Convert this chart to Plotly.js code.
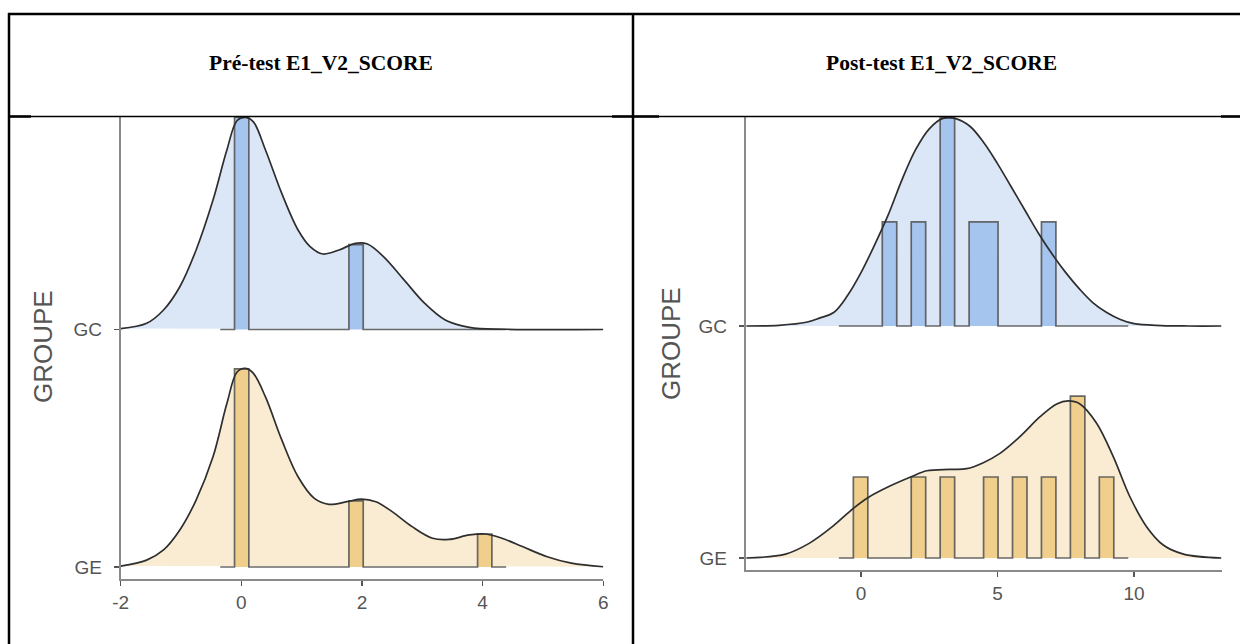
<!DOCTYPE html>
<html>
<head>
<meta charset="utf-8">
<script src="https://cdn.plot.ly/plotly-3.0.1.min.js"></script>
<style>
html,body{margin:0;padding:0;background:#fff;}
#chart{width:1240px;height:644px;}
</style>
</head>
<body>
<div id="chart"></div>
<script>
// ---------------- DATA ----------------
const panelTitles = ['Pré-test E1_V2_SCORE', 'Post-test E1_V2_SCORE'];
const groupLabels = ['GE', 'GC'];
const axisTitle = 'GROUPE';

const preTicks = [-2, 0, 2, 4, 6];
const postTicks = [0, 5, 10];

// Score frequencies (histograms)
const preScores = [0, 2, 4];
const preCountGC = [5, 2, 0];
const preCountGE = [6, 2, 1];
const postScores = [0, 1, 2, 3, 4, 5, 6, 7, 8, 9];
const postCountGC = [0, 1, 1, 2, 1, 1, 0, 1, 0, 0];
const postCountGE = [1, 0, 1, 1, 0, 1, 1, 1, 2, 1];

// Density curves (height relative to the spacing between groups)
const preX_GC = [-2, -1.57, -1.29, -1.02, -0.75, -0.47, -0.24, -0.07, 0.07, 0.2, 0.4, 0.67, 0.94, 1.14, 1.35, 1.62, 1.89, 2.09, 2.36, 2.7, 3.04, 3.38, 3.78, 4.39, 6];
const preD_GC = [0.004, 0.026, 0.082, 0.18, 0.335, 0.545, 0.756, 0.88, 0.893, 0.874, 0.756, 0.573, 0.419, 0.349, 0.318, 0.335, 0.363, 0.36, 0.306, 0.208, 0.11, 0.04, 0.009, 0.001, 0];

const preX_GE = [-2, -1.57, -1.29, -1.02, -0.75, -0.47, -0.24, -0.07, 0.07, 0.2, 0.4, 0.67, 0.94, 1.21, 1.45, 1.75, 1.99, 2.23, 2.5, 2.83, 3.17, 3.44, 3.78, 4.05, 4.32, 4.66, 5.07, 5.47, 6];
const preD_GE = [0.004, 0.029, 0.072, 0.156, 0.282, 0.464, 0.688, 0.821, 0.836, 0.815, 0.716, 0.535, 0.38, 0.289, 0.264, 0.275, 0.286, 0.275, 0.233, 0.17, 0.121, 0.116, 0.135, 0.139, 0.121, 0.086, 0.043, 0.016, 0.001];

const postX_GC = [-4.2, -3, -2, -1.5, -1, -0.5, 0, 0.5, 1, 1.5, 2, 2.5, 3, 3.5, 4, 4.5, 5, 5.5, 6, 6.5, 7, 7.5, 8, 8.5, 9, 9.5, 10, 11, 12, 13.2];
const postD_GC = [0, 0.003, 0.016, 0.035, 0.058, 0.13, 0.23, 0.35, 0.48, 0.63, 0.76, 0.85, 0.895, 0.893, 0.86, 0.79, 0.70, 0.60, 0.50, 0.40, 0.31, 0.23, 0.16, 0.1, 0.058, 0.028, 0.01, 0.002, 0, 0];

const postX_GE = [-4.2, -2.76, -1.9, -1.05, -0.28, 0.28, 1.06, 1.84, 2.41, 3.26, 3.87, 4.48, 5.09, 5.82, 6.56, 7.17, 7.59, 8.02, 8.63, 9.24, 9.85, 10.46, 11.07, 11.81, 13.2];
const postD_GE = [0, 0.017, 0.063, 0.135, 0.214, 0.262, 0.31, 0.35, 0.376, 0.382, 0.385, 0.411, 0.451, 0.523, 0.609, 0.664, 0.677, 0.664, 0.581, 0.437, 0.264, 0.135, 0.056, 0.017, 0];

// ---------------- STYLE / GEOMETRY ----------------
const W = 1240, H = 644;
const px = v => v / W;
const py = v => 1 - v / H;

const colors = {
  GC: {fill: '#dbe6f7', bar: '#a5c4ee'},
  GE: {fill: '#f9ecd3', bar: '#f0cf8c'}
};
const densLine = {color: '#2e2e2e', width: 1.7};
const histLine = {color: 'rgba(80,80,80,0.85)', width: 1.7};

const panels = [
  {xa: 'x', ya: 'y', bins: {start: -0.35, w: 0.237, n: 20}, scale: 0.2965,
   scores: preScores, cGC: preCountGC, cGE: preCountGE,
   dGC: [preX_GC, preD_GC], dGE: [preX_GE, preD_GE]},
  {xa: 'x2', ya: 'y2', bins: {start: -0.81, w: 0.53, n: 20}, scale: 1.665,
   scores: postScores, cGC: postCountGC, cGE: postCountGE,
   dGC: [postX_GC, postD_GC], dGE: [postX_GE, postD_GE]}
];

function histPath(bins, scores, counts, scale, base) {
  const h = new Array(bins.n).fill(0);
  const total = counts.reduce((a, b) => a + b, 0);
  scores.forEach((s, i) => {
    const k = Math.floor((s - bins.start) / bins.w);
    h[k] += counts[i];
  });
  const xs = [bins.start], ys = [base];
  for (let k = 0; k < bins.n; k++) {
    const hh = base + h[k] / (total * bins.w) * scale;
    xs.push(bins.start + k * bins.w, bins.start + (k + 1) * bins.w);
    ys.push(hh, hh);
  }
  xs.push(bins.start + bins.n * bins.w);
  ys.push(base);
  return {xs, ys};
}

const traces = [];
panels.forEach(p => {
  [['GC', 1, p.cGC, p.dGC], ['GE', 0, p.cGE, p.dGE]].forEach(([g, base, counts, dens]) => {
    const dx = dens[0], dy = dens[1].map(v => v + base);
    traces.push({
      type: 'scatter', mode: 'lines', xaxis: p.xa, yaxis: p.ya,
      x: dx, y: dy, fill: 'toself', fillcolor: colors[g].fill,
      line: {width: 0, shape: 'spline', smoothing: 1}, hoverinfo: 'skip'
    });
    const hp = histPath(p.bins, p.scores, counts, p.scale, base);
    traces.push({
      type: 'scatter', mode: 'lines', xaxis: p.xa, yaxis: p.ya,
      x: hp.xs, y: hp.ys, fill: 'toself', fillcolor: colors[g].bar,
      line: histLine, hoverinfo: 'skip', cliponaxis: false
    });
    traces.push({
      type: 'scatter', mode: 'lines', xaxis: p.xa, yaxis: p.ya,
      x: dx, y: dy, line: {color: densLine.color, width: densLine.width, shape: 'spline', smoothing: 1},
      hoverinfo: 'skip', cliponaxis: false
    });
  });
});

const tickFont = {family: 'Liberation Sans, Arial, sans-serif', size: 19, color: '#555'};
function xAxis(domain, range, ticks, anchor) {
  return {
    domain, range, anchor, tickvals: ticks, ticktext: ticks.map(String),
    showgrid: false, zeroline: false, showline: true, linecolor: '#8a8a8a', linewidth: 2,
    ticks: 'outside', ticklen: 5, tickwidth: 1.5, tickcolor: '#555',
    tickfont: tickFont, ticklabelstandoff: 0, fixedrange: true
  };
}
function yAxis(domain, range, anchor) {
  return {
    domain, range, anchor, tickvals: [0, 1], ticktext: groupLabels,
    showgrid: false, zeroline: false, showline: true, linecolor: '#8a8a8a', linewidth: 2,
    ticks: 'outside', ticklen: 5, tickwidth: 1.5, tickcolor: '#555',
    tickfont: tickFont, ticklabelstandoff: 8, fixedrange: true
  };
}

const L = {x0: 120.7, x1: 603.3, top: 117, bot: 579, unit: 237.5, base: 567};
const R = {x0: 745.7, x1: 1221.7, top: 117, bot: 570, unit: 232, base: 558, zeroPx: 861, pxPerUnit: 27.3};

const layout = {
  width: W, height: H, margin: {l: 0, r: 0, t: 0, b: 0},
  paper_bgcolor: '#fff', plot_bgcolor: '#fff', showlegend: false,
  xaxis: xAxis([px(L.x0), px(L.x1)], [-2, 6], preTicks, 'y'),
  yaxis: yAxis([py(L.bot), py(L.top)], [(L.base - L.bot) / L.unit, (L.base - L.top) / L.unit], 'x'),
  xaxis2: xAxis([px(R.x0), px(R.x1)], [(R.x0 - R.zeroPx) / R.pxPerUnit, (R.x1 - R.zeroPx) / R.pxPerUnit], postTicks, 'y2'),
  yaxis2: yAxis([py(R.bot), py(R.top)], [(R.base - R.bot) / R.unit, (R.base - R.top) / R.unit], 'x2'),
  annotations: [
    {text: panelTitles[0], x: px(321), y: py(63.5), xref: 'paper', yref: 'paper', showarrow: false,
     xanchor: 'center', yanchor: 'middle', font: {family: 'Liberation Serif, serif', size: 21.5, color: '#000', weight: 700}},
    {text: panelTitles[1], x: px(941), y: py(63.5), xref: 'paper', yref: 'paper', showarrow: false,
     xanchor: 'center', yanchor: 'middle', font: {family: 'Liberation Serif, serif', size: 21.5, color: '#000', weight: 700}},
    {text: axisTitle, x: px(43), y: py(347), xref: 'paper', yref: 'paper', showarrow: false, textangle: -90,
     xanchor: 'center', yanchor: 'middle', font: {family: 'Liberation Sans, Arial, sans-serif', size: 26, color: '#555'}},
    {text: axisTitle, x: px(671), y: py(344), xref: 'paper', yref: 'paper', showarrow: false, textangle: -90,
     xanchor: 'center', yanchor: 'middle', font: {family: 'Liberation Sans, Arial, sans-serif', size: 26, color: '#555'}}
  ],
  shapes: [
    {type: 'line', xref: 'paper', yref: 'paper', x0: px(8), x1: px(1240), y0: py(14), y1: py(14), line: {color: '#000', width: 2.5}},
    {type: 'line', xref: 'paper', yref: 'paper', x0: px(9), x1: px(9), y0: py(13), y1: py(644), line: {color: '#000', width: 2.5}},
    {type: 'line', xref: 'paper', yref: 'paper', x0: px(633), x1: px(633), y0: py(13), y1: py(644), line: {color: '#000', width: 2.5}},
    {type: 'line', xref: 'paper', yref: 'paper', x0: px(9), x1: px(1240), y0: py(116.5), y1: py(116.5), line: {color: '#000', width: 1.3}},
    {type: 'line', xref: 'paper', yref: 'paper', x0: px(9), x1: px(31), y0: py(116.5), y1: py(116.5), line: {color: '#000', width: 2.5}},
    {type: 'line', xref: 'paper', yref: 'paper', x0: px(612), x1: px(659), y0: py(116.5), y1: py(116.5), line: {color: '#000', width: 2.5}},
    {type: 'line', xref: 'paper', yref: 'paper', x0: px(1221), x1: px(1240), y0: py(116.5), y1: py(116.5), line: {color: '#000', width: 2.5}}
  ]
};

Plotly.newPlot('chart', traces, layout, {staticPlot: true, displayModeBar: false});
</script>
</body>
</html>
